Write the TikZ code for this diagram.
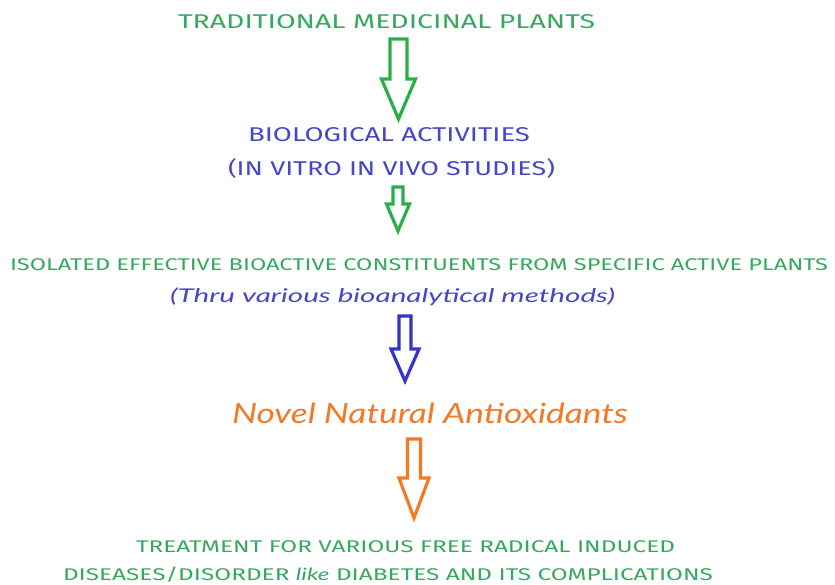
\documentclass[tikz,border=0pt]{standalone}
\usepackage{fontspec}
\setmainfont{Fira Sans}
\newfontfamily\handfont{Lato}
\usepackage{graphicx}
\definecolor{gtext}{RGB}{55,168,95}
\definecolor{garrow}{RGB}{40,176,72}
\definecolor{btext}{RGB}{70,70,200}
\definecolor{barrow}{RGB}{52,52,200}
\definecolor{otext}{RGB}{242,122,40}
\definecolor{oarrow}{RGB}{242,122,36}
\newsavebox\fitbox
\newcommand{\fitto}[2]{\sbox\fitbox{#2}\pgfmathsetmacro\fitratio{(#1)/(\the\wd\fitbox)}\scalebox{\fitratio}[1]{\usebox\fitbox}}
% block arrow: color, cx, top, head start, tip, shaft half, head half
\newcommand{\blockarrow}[7]{%
  \draw[blockarr,draw=#1] (#2-#6,#3) -- (#2+#6,#3) -- (#2+#6,#4) -- (#2+#7,#4)
    -- (#2,#5) -- (#2-#7,#4) -- (#2-#6,#4) -- cycle;}
\tikzset{
  lbl/.style={anchor=base west, inner sep=0pt, outer sep=0pt},
  capsA/.style={lbl, font=\fontsize{20}{24}\selectfont},
  capsB/.style={lbl, font=\fontsize{17}{20}\selectfont},
  blockarr/.style={line width=3.2bp, fill=white, line join=miter}
}
\begin{document}
\begin{tikzpicture}[x=1bp,y=-1bp]
\useasboundingbox (0,0) rectangle (835,585);
\fill[white] (0,0) rectangle (835,585);

\node[capsA, text=gtext] (t1) at (178,29) {\fitto{417bp}{TRADITIONAL MEDICINAL PLANTS}};
\node[capsA, text=btext] (t2) at (248,142) {\fitto{282bp}{BIOLOGICAL ACTIVITIES}};
\node[capsA, text=btext] (t3) at (228,176) {\fitto{327bp}{(IN VITRO IN VIVO STUDIES)}};
\node[capsB, text=gtext] (t4) at (10,270) {\fitto{818bp}{ISOLATED EFFECTIVE BIOACTIVE CONSTITUENTS FROM SPECIFIC ACTIVE PLANTS}};
\node[lbl, text=btext, font=\handfont\itshape\fontsize{19}{22}\selectfont] (t5) at (170,302) {\fitto{445bp}{(Thru various bioanalytical methods)}};
\node[lbl, text=otext, font=\handfont\itshape\fontsize{28}{32}\selectfont] (t6) at (232,423) {\fitto{396bp}{Novel Natural Antioxidants}};
\node[capsB, text=gtext] (t7) at (136,552) {\fitto{539bp}{TREATMENT FOR VARIOUS FREE RADICAL INDUCED}};
\node[capsB, text=gtext] (t8) at (63,580) {\fitto{650bp}{DISEASES/DISORDER {\handfont\itshape like} DIABETES AND ITS COMPLICATIONS}};

\blockarrow{garrow}{398.5}{39}{79}{119}{8.5}{17}
\blockarrow{garrow}{398}{187}{204}{231}{5}{11.5}
\blockarrow{barrow}{405}{316}{349}{381}{6}{14}
\blockarrow{oarrow}{414}{439}{478}{518}{6.5}{15}
\end{tikzpicture}
\end{document}
